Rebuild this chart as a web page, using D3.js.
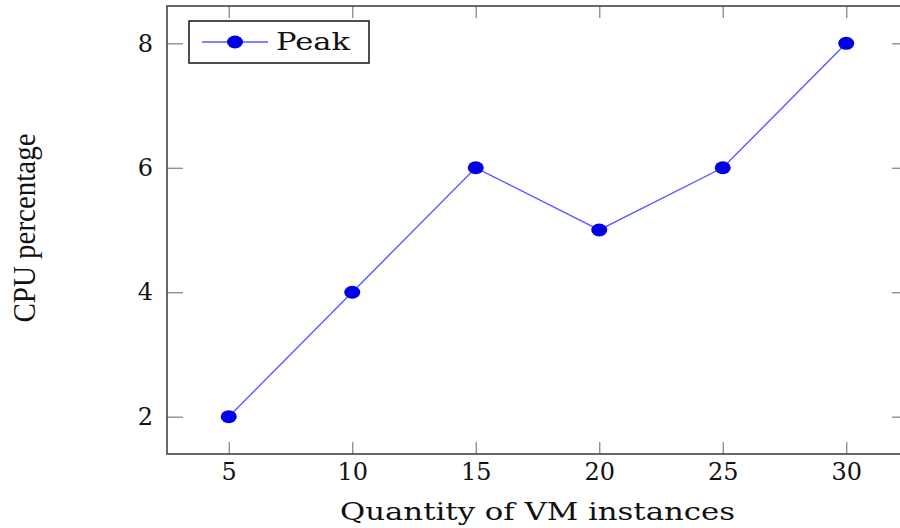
<!DOCTYPE html>
<html>
<head>
<meta charset="utf-8">
<script src="https://cdn.jsdelivr.net/npm/d3@7"></script>
<style>
  body { margin: 0; background: #fff; }
  svg { display: block; }
  text { font-family: "DejaVu Serif", "Liberation Serif", serif; fill: #111; }
</style>
</head>
<body>
<div id="vis"></div>
<script>
// datos
const instancias = [5, 10, 15, 20, 25, 30];
const cpuPeak = [2, 4, 6, 5, 6, 8];
const xTicks = [5, 10, 15, 20, 25, 30];
const yTicks = [2, 4, 6, 8];
const serieNombre = "Peak";

const WIDTH = 900;
const HEIGHT = 528;
const M = { left: 167, right: 908, top: 6, bottom: 454 };

const SVG = d3.select("#vis").append("svg")
  .attr("width", WIDTH).attr("height", HEIGHT);

const datos = instancias.map((x, i) => ({ x: x, y: cpuPeak[i] }));

const escalaX = d3.scaleLinear().domain([2.5, 32.5]).range([M.left, M.right]);
const escalaY = d3.scaleLinear().domain([1.4, 8.6]).range([M.bottom, M.top]);

// ticks hacia adentro
const ejeX = d3.axisBottom(escalaX).tickValues(xTicks).tickSize(-12).tickFormat(d3.format("d"));
const ejeXTop = d3.axisTop(escalaX).tickValues(xTicks).tickSize(-12).tickFormat("");
const ejeY = d3.axisLeft(escalaY).tickValues(yTicks).tickSize(-16).tickPadding(14).tickFormat(d3.format("d"));
const ejeYRight = d3.axisRight(escalaY).tickValues(yTicks).tickSize(-16).tickFormat("");

function estilo(g) {
  g.select(".domain").remove();
  g.selectAll(".tick line").attr("stroke", "#888").attr("stroke-width", 1.3);
  g.selectAll(".tick text").style("font-size", "24px").attr("fill", "#111");
}

SVG.append("g").attr("transform", `translate(0,${M.bottom})`).call(ejeX).call(estilo)
  .selectAll(".tick text").attr("y", 26).attr("dy", null);
SVG.append("g").attr("transform", `translate(0,${M.top})`).call(ejeXTop).call(estilo);
SVG.append("g").attr("transform", `translate(${M.left},0)`).call(ejeY).call(estilo);
SVG.append("g").attr("transform", `translate(${M.right},0)`).call(ejeYRight).call(estilo);

// marco
SVG.append("rect")
  .attr("x", M.left).attr("y", M.top)
  .attr("width", M.right - M.left).attr("height", M.bottom - M.top)
  .attr("fill", "none").attr("stroke", "#444").attr("stroke-width", 1.6);

// linea
const linea = d3.line().x(d => escalaX(d.x)).y(d => escalaY(d.y));
SVG.append("path")
  .datum(datos)
  .attr("d", linea)
  .attr("fill", "none")
  .attr("stroke", "#5a5aff")
  .attr("stroke-width", 1.4);

SVG.selectAll(".punto")
  .data(datos)
  .join("ellipse")
  .attr("class", "punto")
  .attr("cx", d => escalaX(d.x))
  .attr("cy", d => escalaY(d.y))
  .attr("rx", 8)
  .attr("ry", 6.5)
  .attr("fill", "#0000e6");

// leyenda
const leyenda = SVG.append("g").attr("transform", "translate(189,21)");
leyenda.append("rect")
  .attr("width", 180).attr("height", 42)
  .attr("fill", "#fff").attr("stroke", "#222").attr("stroke-width", 1.6);
leyenda.append("line")
  .attr("x1", 13).attr("x2", 79).attr("y1", 21).attr("y2", 21)
  .attr("stroke", "#5a5aff").attr("stroke-width", 1.4);
leyenda.append("ellipse")
  .attr("cx", 46).attr("cy", 21).attr("rx", 8).attr("ry", 6.5)
  .attr("fill", "#0000e6");
leyenda.append("text")
  .attr("x", 87).attr("y", 29)
  .style("font-size", "25px")
  .attr("textLength", 74)
  .attr("lengthAdjust", "spacingAndGlyphs")
  .text(serieNombre);

// titulos de ejes
SVG.append("text")
  .attr("x", 340).attr("y", 520)
  .style("font-size", "24px")
  .attr("textLength", 395)
  .attr("lengthAdjust", "spacingAndGlyphs")
  .text("Quantity of VM instances");

SVG.append("text")
  .attr("transform", "translate(35,228) rotate(-90) scale(1,1.1)")
  .attr("text-anchor", "middle")
  .style("font-family", "'Liberation Serif', serif")
  .style("font-size", "29px")
  .text("CPU percentage");
</script>
</body>
</html>
